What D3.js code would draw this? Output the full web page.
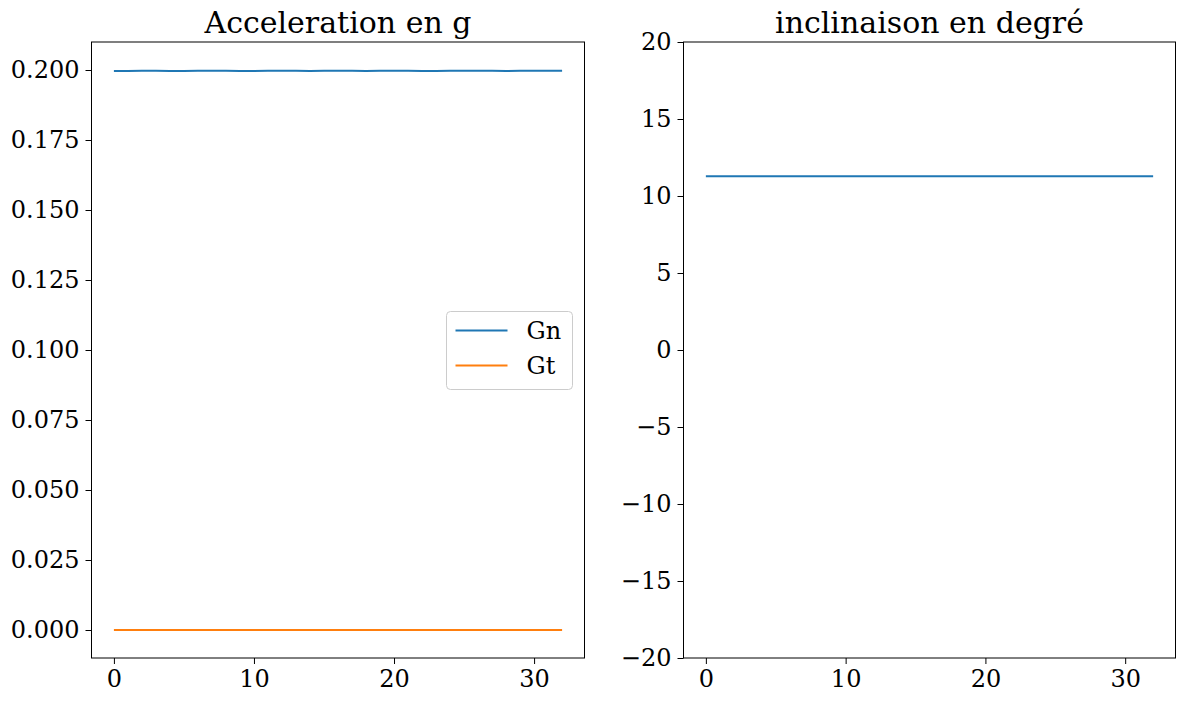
<!doctype html>
<html lang="fr">
<head>
<meta charset="UTF-8">
<title>Acceleration / inclinaison</title>
<style>
  body { margin: 0; background: #fff; }
  text { font-family: "DejaVu Serif", serif; fill: #000; }
</style>
</head>
<body>
<script src="https://cdn.jsdelivr.net/npm/d3@7"></script>
<script>
// temps (s)
var temps = [0, 1, 2, 3, 4, 5, 6, 7, 8, 9, 10, 11, 12, 13, 14, 15, 16,
             17, 18, 19, 20, 21, 22, 23, 24, 25, 26, 27, 28, 29, 30, 31, 32];
// acceleration normale / tangentielle, en g
var gn = [0.19965, 0.19965, 0.1997, 0.1997, 0.19965, 0.19965, 0.1997, 0.1997, 0.1997, 0.19965, 0.19965,
          0.1997, 0.1997, 0.1997, 0.19965, 0.1997, 0.1997, 0.1997, 0.19965, 0.1997, 0.1997,
          0.1997, 0.19965, 0.19965, 0.1997, 0.1997, 0.1997, 0.1997, 0.19965, 0.1997, 0.1997, 0.1997, 0.1997];
var gt = [0, 0, 0, 0, 0, 0, 0, 0, 0, 0, 0,
          0, 0, 0, 0, 0, 0, 0, 0, 0, 0,
          0, 0, 0, 0, 0, 0, 0, 0, 0, 0, 0, 0];
// inclinaison en degre
var incl = [11.29, 11.29, 11.29, 11.29, 11.29, 11.29, 11.29, 11.29, 11.29, 11.29, 11.29,
            11.29, 11.29, 11.29, 11.29, 11.29, 11.29, 11.29, 11.29, 11.29, 11.29,
            11.29, 11.29, 11.29, 11.29, 11.29, 11.29, 11.29, 11.29, 11.29, 11.29, 11.29, 11.29];

var xTicks = [0, 10, 20, 30];
var accTicks = [0, 0.025, 0.05, 0.075, 0.1, 0.125, 0.15, 0.175, 0.2];
var inclTicks = [-20, -15, -10, -5, 0, 5, 10, 15, 20];

var W = 1186, H = 701;
var BLUE = "#1f77b4", ORANGE = "#ff7f0e";

var svg = d3.select("body").append("svg").attr("width", W).attr("height", H);

// one subplot
function panel(left, right, title, yDomain, yTicks, yFmt, series) {
  var top = 42, bottom = 658;
  var x = d3.scaleLinear().domain([-1.6, 33.6]).range([left, right]);
  var y = d3.scaleLinear().domain(yDomain).range([bottom, top]);
  var g = svg.append("g");

  series.forEach(function(s) {
    var line = d3.line()
      .x(function(d, i) { return x(temps[i]); })
      .y(function(d) { return y(d); });
    g.append("path").datum(s.values)
      .attr("d", line).attr("fill", "none")
      .attr("stroke", s.color).attr("stroke-width", 2);
  });

  var xa = g.append("g").attr("transform", "translate(0," + bottom + ")")
    .call(d3.axisBottom(x).tickValues(xTicks).tickSize(6).tickPadding(6).tickFormat(d3.format("d")));
  var ya = g.append("g").attr("transform", "translate(" + left + ",0)")
    .call(d3.axisLeft(y).tickValues(yTicks).tickSize(6).tickPadding(6).tickFormat(yFmt));
  [xa, ya].forEach(function(a) {
    a.select(".domain").remove();
    a.selectAll("line").attr("stroke", "#000").attr("stroke-width", 1);
    a.selectAll("text").style("font-family", "DejaVu Serif").style("font-size", "24px");
  });

  g.append("rect").attr("x", left).attr("y", top)
    .attr("width", right - left).attr("height", bottom - top)
    .attr("fill", "none").attr("stroke", "#000").attr("stroke-width", 1);

  g.append("text").attr("x", (left + right) / 2).attr("y", top - 9)
    .attr("text-anchor", "middle").style("font-size", "30px").text(title);
  return { x: x, y: y };
}

var fmtAcc = d3.format(".3f");
var fmtInt = function(d) { return d < 0 ? "\u2212" + Math.abs(d) : String(d); };

panel(91.5, 584.5, "Acceleration en g", [-0.01, 0.21], accTicks, fmtAcc,
  [{ values: gn, color: BLUE }, { values: gt, color: ORANGE }]);
panel(683.5, 1175.5, "inclinaison en degré", [-20, 20], inclTicks, fmtInt,
  [{ values: incl, color: BLUE }]);

// legend
var names = ["Gn", "Gt"], colors = [BLUE, ORANGE];
var lg = svg.append("g").attr("transform", "translate(446.5,311.5)");
lg.append("rect").attr("width", 126).attr("height", 78).attr("rx", 4)
  .attr("fill", "#fff").attr("fill-opacity", 0.8).attr("stroke", "#cccccc");
names.forEach(function(n, i) {
  var cy = 19 + i * 35;
  lg.append("line").attr("x1", 9).attr("x2", 61).attr("y1", cy).attr("y2", cy)
    .attr("stroke", colors[i]).attr("stroke-width", 2);
  lg.append("text").attr("x", 80).attr("y", cy + 8).style("font-size", "24px").text(n);
});
</script>
</body>
</html>
